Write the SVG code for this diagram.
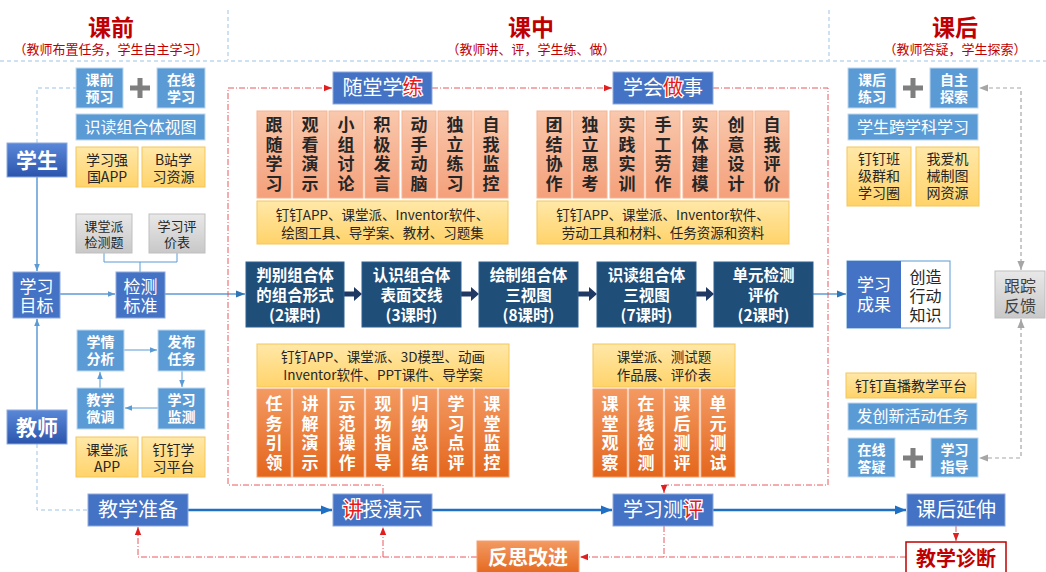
<svg xmlns="http://www.w3.org/2000/svg" width="1046" height="572" viewBox="0 0 1046 572">
<defs>
<style>
text{font-family:"Noto Sans CJK SC","Noto Sans",sans-serif;text-anchor:middle}
.b{font-weight:700}
.w{fill:#fff}
.k{fill:#262626}
.blue{fill:#5b9bd5;stroke:#bdd7ee;stroke-width:1}
.mid{fill:#4472c4;stroke:#8faadc;stroke-width:1}
.navy{fill:#1f4e79;stroke:#2e6191;stroke-width:1}
.yel{fill:url(#gY);stroke:#f4c65a;stroke-width:1}
.gray{fill:url(#gG);stroke:#bfbfbf;stroke-width:1}
.sal{fill:url(#gS);stroke:#f5b493;stroke-width:1}
.org{fill:url(#gO);stroke:#f6a06d;stroke-width:1}
.hl{fill:#e81818;stroke:#fff;stroke-width:2.5;paint-order:stroke}
.sepl{stroke:#9dc3e6;stroke-width:1;stroke-dasharray:4 3;fill:none}
.red{stroke:#e8585c;stroke-width:1;stroke-dasharray:6 2 1 2;fill:none}
.gr{stroke:#a6a6a6;stroke-width:1.2;stroke-dasharray:4 3;fill:none}
.lb{stroke:#5b9bd5;stroke-width:1.5;fill:none}
.thin{stroke:#5b9bd5;stroke-width:1;fill:none}
.main{stroke:#1f6fc5;stroke-width:2.5;fill:none}
.plus{fill:#7f7f7f}
</style>
<linearGradient id="gD" x1="0" y1="0" x2="0" y2="1"><stop offset="0" stop-color="#5a88d8"/><stop offset="1" stop-color="#2b55ad"/></linearGradient>
<linearGradient id="gY" x1="0" y1="0" x2="0" y2="1"><stop offset="0" stop-color="#ffe8a8"/><stop offset="1" stop-color="#ffd36a"/></linearGradient>
<linearGradient id="gG" x1="0" y1="0" x2="0" y2="1"><stop offset="0" stop-color="#e8e8e8"/><stop offset="1" stop-color="#c8c8c8"/></linearGradient>
<linearGradient id="gS" x1="0" y1="0" x2="0" y2="1"><stop offset="0" stop-color="#f9c8ad"/><stop offset="1" stop-color="#f4a07a"/></linearGradient>
<linearGradient id="gO" x1="0" y1="0" x2="0" y2="1"><stop offset="0" stop-color="#f39a62"/><stop offset="1" stop-color="#e4661c"/></linearGradient>
<marker id="aB" viewBox="0 0 10 10" refX="10" refY="5" markerWidth="9" markerHeight="9" markerUnits="userSpaceOnUse" orient="auto-start-reverse"><path d="M0,1 L10,5 L0,9 z" fill="#2e75b6"/></marker>
<marker id="aL" viewBox="0 0 10 10" refX="10" refY="5" markerWidth="7" markerHeight="7" markerUnits="userSpaceOnUse" orient="auto-start-reverse"><path d="M0,1 L10,5 L0,9 z" fill="#5b9bd5"/></marker>
<marker id="aM" viewBox="0 0 10 10" refX="10" refY="5" markerWidth="11" markerHeight="11" markerUnits="userSpaceOnUse" orient="auto-start-reverse"><path d="M0,1 L10,5 L0,9 z" fill="#1f6fc5"/></marker>
<marker id="aR" viewBox="0 0 10 10" refX="10" refY="5" markerWidth="8" markerHeight="8" markerUnits="userSpaceOnUse" orient="auto-start-reverse"><path d="M0,1 L10,5 L0,9 z" fill="#e02020"/></marker>
<marker id="aG" viewBox="0 0 10 10" refX="10" refY="5" markerWidth="9" markerHeight="9" markerUnits="userSpaceOnUse" orient="auto-start-reverse"><path d="M0,1 L10,5 L0,9 z" fill="#a6a6a6"/></marker>
</defs>
<rect width="1046" height="572" fill="#fff"/>

<g id="header">
<line class="sepl" x1="228" y1="10" x2="228" y2="60"/>
<line class="sepl" x1="829" y1="10" x2="829" y2="60"/>
<line class="sepl" x1="0" y1="61" x2="1046" y2="61"/>
<text x="111" y="36" font-size="23" class="b" fill="#c00000">课前</text>
<text x="111" y="54" font-size="13" fill="#c00000">（教师布置任务，学生自主学习）</text>
<text x="531" y="36" font-size="23" class="b" fill="#c00000">课中</text>
<text x="531" y="54" font-size="13" fill="#c00000">（教师讲、评，学生练、做）</text>
<text x="955" y="36" font-size="23" class="b" fill="#c00000">课后</text>
<text x="955" y="54" font-size="13" fill="#c00000">（教师答疑，学生探索）</text>
</g>

<g id="connectors">
<path class="sepl" d="M37,143 V88 H76"/>
<path class="sepl" d="M37,444 V510 H88"/>
<path class="lb" d="M37,177 V271" marker-end="url(#aL)"/>
<path class="lb" d="M37,410 V319" marker-end="url(#aL)"/>
<path class="lb" d="M60,294 H115" marker-end="url(#aL)"/>
<path class="thin" d="M104,253 V262 H177 V253 M140,262 V272" stroke="#9dc3e6"/>
<path class="lb" d="M165,294 H245" stroke="#2e75b6" marker-end="url(#aB)"/>
<path class="thin" d="M124,350 H157" marker-end="url(#aL)"/>
<path class="thin" d="M182,371 V387" marker-end="url(#aL)"/>
<path class="thin" d="M158,408 H125" marker-end="url(#aL)"/>
<path class="thin" d="M100,388 V372" marker-end="url(#aL)"/>
<path fill="#1f3864" d="M344,291.5 H354 V287 L362,294 L354,301 V296.5 H344 Z"/>
<path fill="#1f3864" d="M461,291.5 H471 V287 L479,294 L471,301 V296.5 H461 Z"/>
<path fill="#1f3864" d="M578,291.5 H589 V287 L597,294 L589,301 V296.5 H578 Z"/>
<path fill="#1f3864" d="M696,291.5 H706 V287 L714,294 L706,301 V296.5 H696 Z"/>
<path class="lb" d="M813,294 H846" stroke="#2e75b6" marker-end="url(#aB)"/>
<path class="main" d="M188,510 H332" marker-end="url(#aM)"/>
<path class="main" d="M432,510 H612" marker-end="url(#aM)"/>
<path class="main" d="M713,510 H906" marker-end="url(#aM)"/>
<path class="red" d="M383,494 V485 H228 V88 H332" marker-end="url(#aR)"/>
<path class="red" d="M432,88 H612" marker-end="url(#aR)"/>
<path class="red" d="M713,88 H828 V485 H664 V493" marker-end="url(#aR)"/>
<path class="red" d="M906,557 H580" marker-end="url(#aR)"/>
<path class="red" d="M477,557 H138 V527" marker-end="url(#aR)"/>
<path class="red" d="M383,557 V527" marker-end="url(#aR)"/>
<path class="red" d="M664,526 V557"/>
<path class="red" d="M956,526 V541" marker-end="url(#aR)"/>
<path class="gr" d="M1021,270 V88 H979" marker-start="url(#aG)" marker-end="url(#aG)"/>
<path class="gr" d="M1021,319 V458 H979" marker-start="url(#aG)" marker-end="url(#aG)"/>
</g>

<g id="pre-left">
<g id="n-kqyx"><rect class="blue" x="76" y="68" width="47" height="40"/><text class="w b" font-size="14"><tspan x="99.5" y="85">课前</tspan><tspan x="99.5" y="102">预习</tspan></text></g>
<g id="plus1"><rect class="plus" x="130" y="85.5" width="20" height="5"/><rect class="plus" x="137.5" y="78" width="5" height="20"/></g>
<g id="n-zxxx"><rect class="blue" x="157" y="68" width="48" height="40"/><text class="w b" font-size="14"><tspan x="181" y="85">在线</tspan><tspan x="181" y="102">学习</tspan></text></g>
<g id="n-sdzht"><rect class="blue" x="76" y="114" width="129" height="26"/><text x="140.5" y="133" class="w" font-size="16">识读组合体视图</text></g>
<g id="n-xxqg"><rect class="yel" x="76" y="147" width="62" height="40"/><text class="k" font-size="14"><tspan x="107" y="165">学习强</tspan><tspan x="107" y="182">国APP</tspan></text></g>
<g id="n-bz"><rect class="yel" x="142" y="147" width="63" height="40"/><text class="k" font-size="14"><tspan x="173.5" y="165">B站学</tspan><tspan x="173.5" y="182">习资源</tspan></text></g>
<g id="n-student"><rect x="7" y="143" width="60" height="34" fill="url(#gD)" stroke="#8faadc"/><text x="37" y="168" class="w b" font-size="21">学生</text></g>
<g id="n-ktp"><rect class="gray" x="76" y="214" width="56" height="39"/><text class="k" font-size="13"><tspan x="104" y="231">课堂派</tspan><tspan x="104" y="247">检测题</tspan></text></g>
<g id="n-xxpj"><rect class="gray" x="149" y="214" width="56" height="39"/><text class="k" font-size="13"><tspan x="177" y="231">学习评</tspan><tspan x="177" y="247">价表</tspan></text></g>
<g id="n-xxmb"><rect class="mid" x="13" y="272" width="47" height="46"/><text class="w" font-size="17"><tspan x="36.5" y="293">学习</tspan><tspan x="36.5" y="312">目标</tspan></text></g>
<g id="n-jcbz"><rect class="mid" x="116" y="272" width="49" height="46"/><text class="w" font-size="17"><tspan x="140.5" y="293">检测</tspan><tspan x="140.5" y="312">标准</tspan></text></g>
<g id="n-xqfx"><rect class="blue" x="77" y="330" width="47" height="41"/><text class="w b" font-size="14"><tspan x="100.5" y="347">学情</tspan><tspan x="100.5" y="364">分析</tspan></text></g>
<g id="n-fbrw"><rect class="blue" x="158" y="330" width="47" height="41"/><text class="w b" font-size="14"><tspan x="181.5" y="347">发布</tspan><tspan x="181.5" y="364">任务</tspan></text></g>
<g id="n-jxwt"><rect class="blue" x="77" y="388" width="47" height="41"/><text class="w b" font-size="14"><tspan x="100.5" y="405">教学</tspan><tspan x="100.5" y="422">微调</tspan></text></g>
<g id="n-xxjc"><rect class="blue" x="158" y="388" width="47" height="41"/><text class="w b" font-size="14"><tspan x="181.5" y="405">学习</tspan><tspan x="181.5" y="422">监测</tspan></text></g>
<g id="n-ktpapp"><rect class="yel" x="76" y="437" width="62" height="40"/><text class="k" font-size="14"><tspan x="107" y="455">课堂派</tspan><tspan x="107" y="472">APP</tspan></text></g>
<g id="n-ddxx"><rect class="yel" x="142" y="437" width="63" height="40"/><text class="k" font-size="14"><tspan x="173.5" y="455">钉钉学</tspan><tspan x="173.5" y="472">习平台</tspan></text></g>
<g id="n-teacher"><rect x="7" y="410" width="60" height="34" fill="url(#gD)" stroke="#8faadc"/><text x="37" y="435" class="w b" font-size="21">教师</text></g>
<g id="n-jxzb"><rect class="mid" x="88" y="494" width="100" height="32"/><text x="138" y="517" class="w" font-size="20">教学准备</text></g>
</g>

<g id="middle">
<g id="n-stxl"><rect class="mid" x="333" y="72" width="99" height="32"/><text x="382.5" y="95" class="w" font-size="20">随堂学<tspan class="hl">练</tspan></text></g>
<g id="n-xhzs"><rect class="mid" x="613" y="72" width="100" height="32"/><text x="663" y="95" class="w" font-size="20">学会<tspan class="hl">做</tspan>事</text></g>
<g id="cards-lian" font-size="17" class="b">
<rect class="sal" x="257" y="111" width="34" height="87"/><text class="k b" font-size="17"><tspan x="274" y="131">跟</tspan><tspan x="274" y="151">随</tspan><tspan x="274" y="170">学</tspan><tspan x="274" y="190">习</tspan></text>
<rect class="sal" x="293" y="111" width="34" height="87"/><text class="k b" font-size="17"><tspan x="310" y="131">观</tspan><tspan x="310" y="151">看</tspan><tspan x="310" y="170">演</tspan><tspan x="310" y="190">示</tspan></text>
<rect class="sal" x="329" y="111" width="34" height="87"/><text class="k b" font-size="17"><tspan x="346" y="131">小</tspan><tspan x="346" y="151">组</tspan><tspan x="346" y="170">讨</tspan><tspan x="346" y="190">论</tspan></text>
<rect class="sal" x="365" y="111" width="34" height="87"/><text class="k b" font-size="17"><tspan x="382" y="131">积</tspan><tspan x="382" y="151">极</tspan><tspan x="382" y="170">发</tspan><tspan x="382" y="190">言</tspan></text>
<rect class="sal" x="402" y="111" width="34" height="87"/><text class="k b" font-size="17"><tspan x="419" y="131">动</tspan><tspan x="419" y="151">手</tspan><tspan x="419" y="170">动</tspan><tspan x="419" y="190">脑</tspan></text>
<rect class="sal" x="438" y="111" width="34" height="87"/><text class="k b" font-size="17"><tspan x="455" y="131">独</tspan><tspan x="455" y="151">立</tspan><tspan x="455" y="170">练</tspan><tspan x="455" y="190">习</tspan></text>
<rect class="sal" x="474" y="111" width="34" height="87"/><text class="k b" font-size="17"><tspan x="491" y="131">自</tspan><tspan x="491" y="151">我</tspan><tspan x="491" y="170">监</tspan><tspan x="491" y="190">控</tspan></text>
</g>
<g id="res-lian"><rect class="yel" x="257" y="201" width="251" height="43"/><text class="k" font-size="13.5"><tspan x="382.5" y="220">钉钉APP、课堂派、Inventor软件、</tspan><tspan x="382.5" y="238">绘图工具、导学案、教材、习题集</tspan></text></g>
<g id="cards-zuo">
<rect class="sal" x="537" y="111" width="34" height="87"/><text class="k b" font-size="17"><tspan x="554" y="131">团</tspan><tspan x="554" y="151">结</tspan><tspan x="554" y="170">协</tspan><tspan x="554" y="190">作</tspan></text>
<rect class="sal" x="573" y="111" width="34" height="87"/><text class="k b" font-size="17"><tspan x="590" y="131">独</tspan><tspan x="590" y="151">立</tspan><tspan x="590" y="170">思</tspan><tspan x="590" y="190">考</tspan></text>
<rect class="sal" x="610" y="111" width="34" height="87"/><text class="k b" font-size="17"><tspan x="627" y="131">实</tspan><tspan x="627" y="151">践</tspan><tspan x="627" y="170">实</tspan><tspan x="627" y="190">训</tspan></text>
<rect class="sal" x="646" y="111" width="34" height="87"/><text class="k b" font-size="17"><tspan x="663" y="131">手</tspan><tspan x="663" y="151">工</tspan><tspan x="663" y="170">劳</tspan><tspan x="663" y="190">作</tspan></text>
<rect class="sal" x="683" y="111" width="34" height="87"/><text class="k b" font-size="17"><tspan x="700" y="131">实</tspan><tspan x="700" y="151">体</tspan><tspan x="700" y="170">建</tspan><tspan x="700" y="190">模</tspan></text>
<rect class="sal" x="719" y="111" width="34" height="87"/><text class="k b" font-size="17"><tspan x="736" y="131">创</tspan><tspan x="736" y="151">意</tspan><tspan x="736" y="170">设</tspan><tspan x="736" y="190">计</tspan></text>
<rect class="sal" x="755" y="111" width="34" height="87"/><text class="k b" font-size="17"><tspan x="772" y="131">自</tspan><tspan x="772" y="151">我</tspan><tspan x="772" y="170">评</tspan><tspan x="772" y="190">价</tspan></text>
</g>
<g id="res-zuo"><rect class="yel" x="537" y="201" width="252" height="43"/><text class="k" font-size="13.5"><tspan x="663" y="220">钉钉APP、课堂派、Inventor软件、</tspan><tspan x="663" y="238">劳动工具和材料、任务资源和资料</tspan></text></g>

<g id="n-p1"><rect class="navy" x="246" y="262" width="98" height="65"/><text class="w b" font-size="15.5"><tspan x="295" y="281">判别组合体</tspan><tspan x="295" y="301">的组合形式</tspan><tspan x="295" y="321">(2课时)</tspan></text></g>
<g id="n-p2"><rect class="navy" x="362" y="262" width="99" height="65"/><text class="w b" font-size="15.5"><tspan x="411.5" y="281">认识组合体</tspan><tspan x="411.5" y="301">表面交线</tspan><tspan x="411.5" y="321">(3课时)</tspan></text></g>
<g id="n-p3"><rect class="navy" x="479" y="262" width="99" height="65"/><text class="w b" font-size="15.5"><tspan x="528.5" y="281">绘制组合体</tspan><tspan x="528.5" y="301">三视图</tspan><tspan x="528.5" y="321">(8课时)</tspan></text></g>
<g id="n-p4"><rect class="navy" x="597" y="262" width="99" height="65"/><text class="w b" font-size="15.5"><tspan x="646.5" y="281">识读组合体</tspan><tspan x="646.5" y="301">三视图</tspan><tspan x="646.5" y="321">(7课时)</tspan></text></g>
<g id="n-p5"><rect class="navy" x="714" y="262" width="99" height="65"/><text class="w b" font-size="15.5"><tspan x="763.5" y="281">单元检测</tspan><tspan x="763.5" y="301">评价</tspan><tspan x="763.5" y="321">(2课时)</tspan></text></g>

<g id="res-jiang"><rect class="yel" x="257" y="344" width="252" height="43"/><text class="k" font-size="13.5"><tspan x="383" y="362">钉钉APP、课堂派、3D模型、动画</tspan><tspan x="383" y="380">Inventor软件、PPT课件、导学案</tspan></text></g>
<g id="cards-jiang">
<rect class="org" x="257" y="389" width="34" height="88"/><text class="w b" font-size="17"><tspan x="274" y="410">任</tspan><tspan x="274" y="429.5">务</tspan><tspan x="274" y="449">引</tspan><tspan x="274" y="468.5">领</tspan></text>
<rect class="org" x="293" y="389" width="34" height="88"/><text class="w b" font-size="17"><tspan x="310" y="410">讲</tspan><tspan x="310" y="429.5">解</tspan><tspan x="310" y="449">演</tspan><tspan x="310" y="468.5">示</tspan></text>
<rect class="org" x="330" y="389" width="34" height="88"/><text class="w b" font-size="17"><tspan x="347" y="410">示</tspan><tspan x="347" y="429.5">范</tspan><tspan x="347" y="449">操</tspan><tspan x="347" y="468.5">作</tspan></text>
<rect class="org" x="366" y="389" width="34" height="88"/><text class="w b" font-size="17"><tspan x="383" y="410">现</tspan><tspan x="383" y="429.5">场</tspan><tspan x="383" y="449">指</tspan><tspan x="383" y="468.5">导</tspan></text>
<rect class="org" x="403" y="389" width="34" height="88"/><text class="w b" font-size="17"><tspan x="420" y="410">归</tspan><tspan x="420" y="429.5">纳</tspan><tspan x="420" y="449">总</tspan><tspan x="420" y="468.5">结</tspan></text>
<rect class="org" x="439" y="389" width="34" height="88"/><text class="w b" font-size="17"><tspan x="456" y="410">学</tspan><tspan x="456" y="429.5">习</tspan><tspan x="456" y="449">点</tspan><tspan x="456" y="468.5">评</tspan></text>
<rect class="org" x="475" y="389" width="34" height="88"/><text class="w b" font-size="17"><tspan x="492" y="410">课</tspan><tspan x="492" y="429.5">堂</tspan><tspan x="492" y="449">监</tspan><tspan x="492" y="468.5">控</tspan></text>
</g>
<g id="res-ping"><rect class="yel" x="593" y="344" width="142" height="43"/><text class="k" font-size="13.5"><tspan x="664" y="362">课堂派、测试题</tspan><tspan x="664" y="380">作品展、评价表</tspan></text></g>
<g id="cards-ping">
<rect class="org" x="593" y="389" width="34" height="88"/><text class="w b" font-size="17"><tspan x="610" y="410">课</tspan><tspan x="610" y="429.5">堂</tspan><tspan x="610" y="449">观</tspan><tspan x="610" y="468.5">察</tspan></text>
<rect class="org" x="629" y="389" width="34" height="88"/><text class="w b" font-size="17"><tspan x="646" y="410">在</tspan><tspan x="646" y="429.5">线</tspan><tspan x="646" y="449">检</tspan><tspan x="646" y="468.5">测</tspan></text>
<rect class="org" x="665" y="389" width="34" height="88"/><text class="w b" font-size="17"><tspan x="682" y="410">课</tspan><tspan x="682" y="429.5">后</tspan><tspan x="682" y="449">测</tspan><tspan x="682" y="468.5">评</tspan></text>
<rect class="org" x="701" y="389" width="34" height="88"/><text class="w b" font-size="17"><tspan x="718" y="410">单</tspan><tspan x="718" y="429.5">元</tspan><tspan x="718" y="449">测</tspan><tspan x="718" y="468.5">试</tspan></text>
</g>

<g id="n-jsys"><rect class="mid" x="333" y="494" width="99" height="32"/><text x="382.5" y="517" class="w" font-size="20"><tspan class="hl">讲</tspan>授演示</text></g>
<g id="n-xxcp"><rect class="mid" x="613" y="494" width="100" height="32"/><text x="663" y="517" class="w" font-size="20">学习测<tspan class="hl">评</tspan></text></g>
<g id="n-fsgj"><rect class="org" x="477" y="541" width="102" height="34"/><text x="528" y="565" class="w b" font-size="20">反思改进</text></g>
</g>

<g id="post-right">
<g id="n-khlx"><rect class="blue" x="848" y="68" width="48" height="40"/><text class="w b" font-size="14"><tspan x="872" y="85">课后</tspan><tspan x="872" y="102">练习</tspan></text></g>
<g id="plus2"><rect class="plus" x="903" y="85.5" width="20" height="5"/><rect class="plus" x="910.5" y="78" width="5" height="20"/></g>
<g id="n-zzts"><rect class="blue" x="930" y="68" width="48" height="40"/><text class="w b" font-size="14"><tspan x="954" y="85">自主</tspan><tspan x="954" y="102">探索</tspan></text></g>
<g id="n-kxk"><rect class="blue" x="848" y="114" width="130" height="26"/><text x="913" y="133" class="w" font-size="16">学生跨学科学习</text></g>
<g id="n-ddbj"><rect class="yel" x="847" y="147" width="64" height="59"/><text class="k" font-size="14"><tspan x="879" y="164">钉钉班</tspan><tspan x="879" y="181">级群和</tspan><tspan x="879" y="198">学习圈</tspan></text></g>
<g id="n-wajx"><rect class="yel" x="916" y="147" width="63" height="59"/><text class="k" font-size="14"><tspan x="947.5" y="164">我爱机</tspan><tspan x="947.5" y="181">械制图</tspan><tspan x="947.5" y="198">网资源</tspan></text></g>
<g id="n-xxcg"><rect x="847" y="261" width="103" height="67" fill="#fff" stroke="#5b9bd5"/><rect x="847" y="261" width="54" height="67" fill="#4472c4"/><text class="w" font-size="17"><tspan x="874" y="291">学习</tspan><tspan x="874" y="311">成果</tspan></text><text class="k" font-size="16"><tspan x="925.5" y="283">创造</tspan><tspan x="925.5" y="302">行动</tspan><tspan x="925.5" y="321">知识</tspan></text></g>
<g id="n-gzfk"><rect class="gray" x="995" y="271" width="50" height="47"/><text fill="#404040" font-size="16"><tspan x="1020" y="292">跟踪</tspan><tspan x="1020" y="312">反馈</tspan></text></g>
<g id="n-ddzb"><rect class="yel" x="846" y="373" width="130" height="25"/><text x="911" y="391" class="k" font-size="14">钉钉直播教学平台</text></g>
<g id="n-fcx"><rect class="blue" x="848" y="403" width="129" height="27"/><text x="912.5" y="422" class="w" font-size="16">发创新活动任务</text></g>
<g id="n-zxdy"><rect class="blue" x="848" y="438" width="47" height="39"/><text class="w b" font-size="14"><tspan x="871.5" y="455">在线</tspan><tspan x="871.5" y="472">答疑</tspan></text></g>
<g id="plus3"><rect class="plus" x="903" y="455.5" width="20" height="5"/><rect class="plus" x="910.5" y="448" width="5" height="20"/></g>
<g id="n-xxzd"><rect class="blue" x="931" y="438" width="47" height="39"/><text class="w b" font-size="14"><tspan x="954.5" y="455">学习</tspan><tspan x="954.5" y="472">指导</tspan></text></g>
<g id="n-khys"><rect class="mid" x="907" y="494" width="98" height="32"/><text x="956" y="517" class="w" font-size="20">课后延伸</text></g>
<g id="n-jxzd"><rect x="906" y="542" width="100" height="36" fill="#fff" stroke="#c00000" stroke-width="1.5"/><text x="956" y="566" class="b" fill="#c00000" font-size="20">教学诊断</text></g>
</g>
</svg>
